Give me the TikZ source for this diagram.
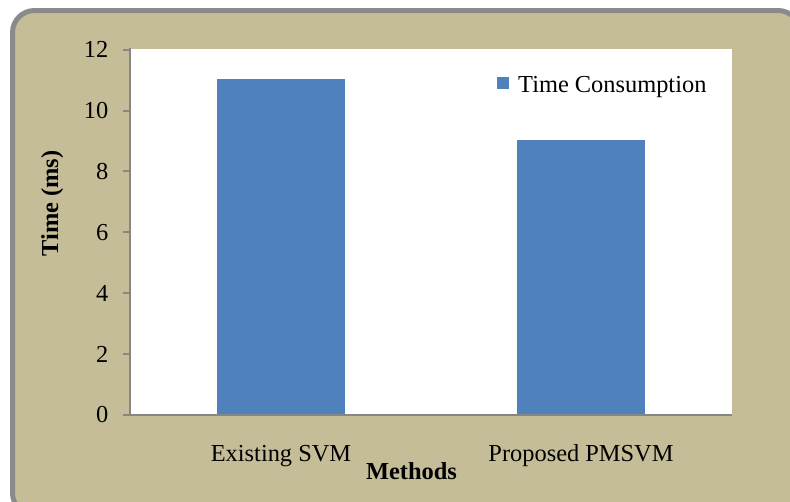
\documentclass[tikz,border=0pt]{standalone}
\usepackage{fontspec}
\setmainfont{Liberation Serif}
\definecolor{panel}{HTML}{C4BD97}
\definecolor{barblue}{HTML}{4F81BD}
\definecolor{rim}{HTML}{8A8A8A}
\definecolor{axisgray}{HTML}{868686}
\begin{document}
\begin{tikzpicture}[x=1pt,y=-1pt,
  lbl/.style={inner sep=0pt, font=\fontsize{24.4}{28}\selectfont},
  ticklbl/.style={lbl, anchor=east},
  axisline/.style={draw=axisgray, line width=2pt},
  barbox/.style={fill=barblue}]
\useasboundingbox (0,0) rectangle (790,501);
% chart panel
\fill[panel, rounded corners=22pt] (12.5,10.5) rectangle (800,515);
\draw[rim, line width=5pt, rounded corners=22pt] (12.5,10.5) rectangle (800,515);
% plot area
\fill[white] (130,49) rectangle (732,414.8);
% bars (scale: 60.833 px per 2 ms, zero at y=414.8)
\fill[barbox] (217,79.4) rectangle (345,414.8);
\fill[barbox] (517,140.2) rectangle (645,414.8);
% axes
\coordinate (ytop) at (130,48);
\coordinate (yorig) at (130,414.8);
\coordinate (xleft) at (123,414.8);
\coordinate (xright) at (732,414.8);
\draw[axisline] (ytop) -- (yorig);
\draw[axisline] (xleft) -- (xright);
% y ticks and labels
\foreach \v [count=\i] in {0,2,4,6,8,10,12}{
  \coordinate (t\i) at (123,{414.8-\v*30.4167});
  \coordinate (u\i) at (130,{414.8-\v*30.4167});
  \draw[axisgray, line width=2pt] (t\i) -- (u\i);
  \node[ticklbl] (yl\i) at (108.5,{414.8-\v*30.4167}) {\v};
}
% category labels
\node[lbl, anchor=base] (c1) at (281,461) {Existing SVM};
\node[lbl, anchor=base] (c2) at (581,461) {Proposed PMSVM};
\node[lbl, anchor=base, font=\fontsize{24.4}{28}\selectfont\bfseries] (xt) at (411.5,479) {Methods};
\node[lbl, anchor=base, rotate=90, font=\fontsize{24.4}{28}\selectfont\bfseries] (yt) at (58,203.5) {Time (ms)};
% legend
\node[fill=barblue, inner sep=0pt, minimum size=12pt] (lk) at (503,83) {};
\node[lbl, anchor=base west] (lt) at (518,92) {Time Consumption};
\end{tikzpicture}
\end{document}
